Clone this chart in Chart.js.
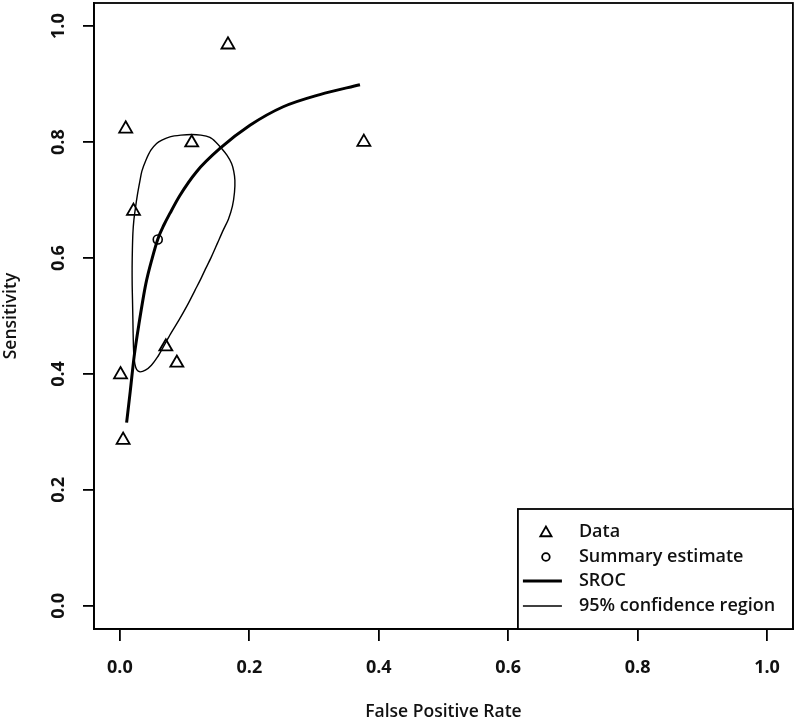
<!DOCTYPE html>
<html>
<head>
<meta charset="utf-8">
<script src="https://cdn.jsdelivr.net/npm/chart.js@4/dist/chart.umd.min.js"></script>
<style>
html,body{margin:0;padding:0;background:#fff;}
#wrap{width:796px;height:724px;}
</style>
</head>
<body>
<div id="wrap"><canvas id="c" width="796" height="724"></canvas></div>
<script>
// ---- data ----
const xTickValues = [0, 0.2, 0.4, 0.6, 0.8, 1.0];
const yTickValues = [0, 0.2, 0.4, 0.6, 0.8, 1.0];
const xTitle = 'False Positive Rate';
const yTitle = 'Sensitivity';
const legendLabels = ['Data', 'Summary estimate', 'SROC', '95% confidence region'];

// study data (triangles)
const dataFPR  = [0.001, 0.005, 0.009, 0.021, 0.071, 0.088, 0.111, 0.167, 0.377];
const dataSens = [0.399, 0.286, 0.823, 0.681, 0.447, 0.419, 0.799, 0.968, 0.800];

// summary estimate (circle)
const summaryFPR  = [0.0585];
const summarySens = [0.632];

// SROC curve
const srocFPR  = [0.0104, 0.016, 0.022, 0.030, 0.040, 0.050, 0.0587, 0.068, 0.0773, 0.0927, 0.1185, 0.1546, 0.201, 0.2524, 0.309, 0.371];
const srocSens = [0.316, 0.370, 0.430, 0.490, 0.555, 0.600, 0.633, 0.657, 0.677, 0.708, 0.749, 0.789, 0.829, 0.861, 0.882, 0.899];

// 95% confidence region (closed loop)
const ciFPR  = [0.1321, 0.1241, 0.1162, 0.1043, 0.0912, 0.0781, 0.0671, 0.0580, 0.0487, 0.0394, 0.0309, 0.0260, 0.0232, 0.0216, 0.0207, 0.0201, 0.0195, 0.0190, 0.0189, 0.0193, 0.0201, 0.0216, 0.0240, 0.0270, 0.0309, 0.0340, 0.0402, 0.0479, 0.0567, 0.0649, 0.0773, 0.0943, 0.1108, 0.1252, 0.1391, 0.1484, 0.1572, 0.1654, 0.1726, 0.1759, 0.1777, 0.1771, 0.1739, 0.1677, 0.1597, 0.1508, 0.1414, 0.1321];
const ciSens = [0.5808, 0.5618, 0.5446, 0.5187, 0.4928, 0.4687, 0.4468, 0.4290, 0.4152, 0.4066, 0.4037, 0.4075, 0.4169, 0.4325, 0.4583, 0.4928, 0.5273, 0.5532, 0.5843, 0.6136, 0.6429, 0.6653, 0.6861, 0.7085, 0.7326, 0.7499, 0.7688, 0.7861, 0.7977, 0.8034, 0.8090, 0.8120, 0.8132, 0.8120, 0.8080, 0.7999, 0.7890, 0.7775, 0.7632, 0.7499, 0.7343, 0.7136, 0.6895, 0.6671, 0.6481, 0.6257, 0.6020, 0.5808];

const toPts = (xs, ys) => xs.map((x, i) => ({x: x, y: ys[i]}));

const FONT = "'Open Sans', 'Liberation Sans', sans-serif";
const INK = '#111';

const boxAndExtras = {
  id: 'boxAndExtras',
  afterDraw(chart) {
    const ctx = chart.ctx;
    const a = chart.chartArea;
    const ys = chart.scales.y;
    ctx.save();
    // y tick labels (rotated, as in R)
    ctx.fillStyle = INK;
    ctx.font = "bold 18px " + FONT;
    ctx.textAlign = 'center';
    ctx.textBaseline = 'middle';
    yTickValues.forEach(v => {
      const py = ys.getPixelForValue(v);
      ctx.save();
      ctx.translate(58.5, py);
      ctx.rotate(-Math.PI / 2);
      ctx.fillText(v.toFixed(1), 0, 0);
      ctx.restore();
    });
    // plot box
    ctx.strokeStyle = '#000';
    ctx.lineWidth = 1.8;
    ctx.strokeRect(a.left, a.top, a.right - a.left, a.bottom - a.top);

    // legend (bottom-right, touching the box)
    const lw = 275, lh = 120;
    const lx = a.right - lw, ly = a.bottom - lh;
    ctx.fillStyle = '#fff';
    ctx.fillRect(lx, ly, lw, lh);
    ctx.strokeRect(lx, ly, lw, lh);
    const rows = [ly + 23, ly + 48, ly + 72, ly + 97];
    const symX = lx + 28;
    Chart.helpers.drawPoint(ctx, {pointStyle: 'triangle', radius: 6.5, borderWidth: 1.8, rotation: 0}, symX, rows[0] + 1);
    ctx.strokeStyle = '#000';
    ctx.lineWidth = 1.8;
    ctx.beginPath();
    ctx.arc(symX, rows[1], 3.8, 0, Math.PI * 2);
    ctx.stroke();
    ctx.lineWidth = 3;
    ctx.beginPath(); ctx.moveTo(lx + 5, rows[2]); ctx.lineTo(lx + 44, rows[2]); ctx.stroke();
    ctx.lineWidth = 1.4;
    ctx.beginPath(); ctx.moveTo(lx + 5, rows[3]); ctx.lineTo(lx + 44, rows[3]); ctx.stroke();
    ctx.fillStyle = INK;
    ctx.font = "600 18px " + FONT;
    ctx.textAlign = 'left';
    ctx.textBaseline = 'middle';
    legendLabels.forEach((t, i) => ctx.fillText(t, lx + 61, rows[i]));
    ctx.restore();
  }
};

new Chart(document.getElementById('c'), {
  type: 'scatter',
  data: {
    datasets: [
      {
        label: legendLabels[3],
        data: toPts(ciFPR, ciSens),
        showLine: true,
        borderColor: '#000',
        borderWidth: 1.4,
        pointRadius: 0,
        tension: 0.3,
        fill: false
      },
      {
        label: legendLabels[2],
        data: toPts(srocFPR, srocSens),
        showLine: true,
        borderColor: '#000',
        borderWidth: 3,
        pointRadius: 0,
        cubicInterpolationMode: 'monotone',
        fill: false
      },
      {
        label: legendLabels[0],
        data: toPts(dataFPR, dataSens),
        showLine: false,
        pointStyle: 'triangle',
        pointRadius: 7.5,
        pointBorderWidth: 1.8,
        pointBorderColor: '#000',
        pointBackgroundColor: 'rgba(0,0,0,0)'
      },
      {
        label: legendLabels[1],
        data: toPts(summaryFPR, summarySens),
        showLine: false,
        pointStyle: 'circle',
        pointRadius: 4.5,
        pointBorderWidth: 1.6,
        pointBorderColor: '#000',
        pointBackgroundColor: 'rgba(0,0,0,0)'
      }
    ]
  },
  options: {
    responsive: false,
    animation: false,
    devicePixelRatio: 1,
    layout: {autoPadding: false, padding: {top: 3, right: 3, left: 0, bottom: 0}},
    plugins: {legend: {display: false}, tooltip: {enabled: false}},
    scales: {
      x: {
        type: 'linear',
        min: -0.04,
        max: 1.04,
        afterBuildTicks: s => { s.ticks = xTickValues.map(v => ({value: v})); },
        afterFit: s => { s.height = 95; },
        ticks: {
          callback: v => Number(v).toFixed(1),
          font: {family: FONT, size: 18, weight: 'bold'},
          color: INK,
          padding: 16,
          maxRotation: 0,
          autoSkip: false
        },
        grid: {drawOnChartArea: false, drawTicks: true, tickLength: 12, color: '#000', lineWidth: 1.8},
        border: {display: true, color: '#000', width: 1.8},
        title: {display: true, text: xTitle, color: INK, font: {family: FONT, size: 17.5, weight: '600'}, padding: {top: 0, bottom: 1}}
      },
      y: {
        type: 'linear',
        min: -0.04,
        max: 1.04,
        afterBuildTicks: s => { s.ticks = yTickValues.map(v => ({value: v})); },
        afterFit: s => { s.width = 94; },
        ticks: {display: false},
        grid: {drawOnChartArea: false, drawTicks: true, tickLength: 11, color: '#000', lineWidth: 1.8},
        border: {display: true, color: '#000', width: 1.8},
        title: {display: true, text: yTitle, color: INK, font: {family: FONT, size: 17.5, weight: '600'}, padding: {top: 0.5, bottom: 0}}
      }
    }
  },
  plugins: [boxAndExtras]
});
</script>
</body>
</html>
